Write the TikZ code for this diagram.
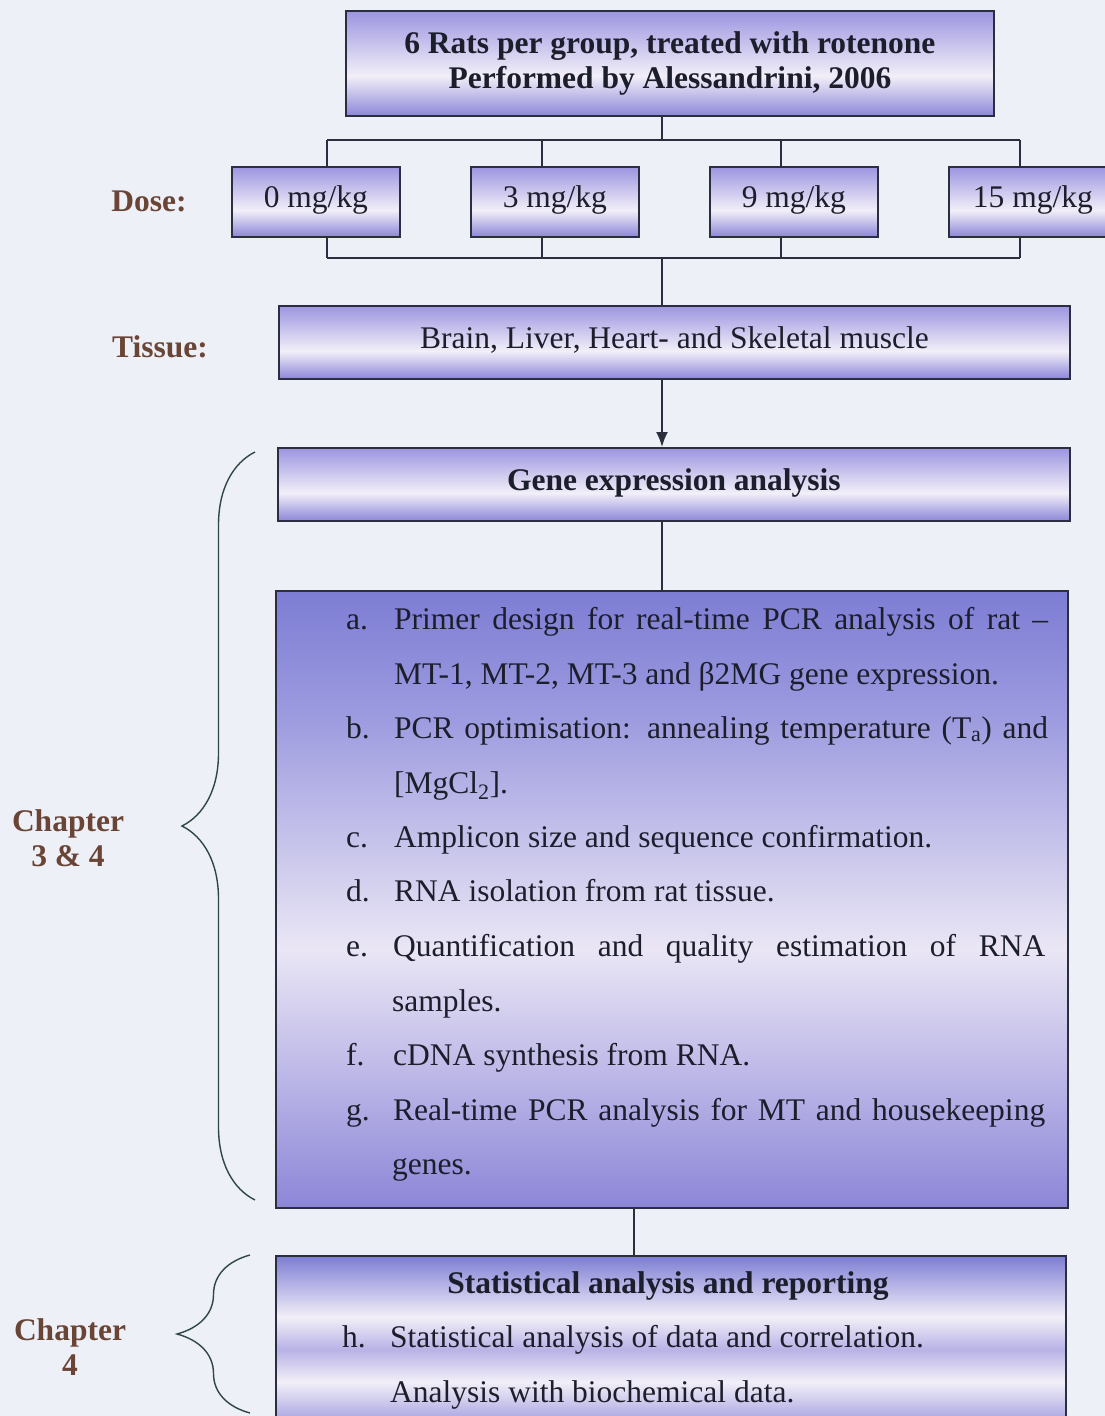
\documentclass[tikz,border=0pt]{standalone}
\usepackage{fontspec}
\setmainfont{Liberation Serif}
\usetikzlibrary{arrows.meta,decorations.pathreplacing}

\definecolor{bgcol}{HTML}{EEF0F8}
\definecolor{boxtop}{HTML}{9C95E0}
\definecolor{boxmid}{HTML}{F2EFF8}
\definecolor{boxbot}{HTML}{8C86D8}
\definecolor{bigtop}{HTML}{7D7DD4}
\definecolor{bigupper}{HTML}{9C9ADF}
\definecolor{bigmid}{HTML}{EAE6F5}
\definecolor{statmid}{HTML}{B8B2E6}
\definecolor{labcol}{HTML}{6A4535}
\definecolor{linecol}{HTML}{2A2E3E}
\definecolor{bracecol}{HTML}{2E4646}
\definecolor{txtcol}{HTML}{1C1E2C}

\pgfdeclareverticalshading{boxshade}{100bp}{color(0bp)=(boxbot); color(25bp)=(boxbot); color(44bp)=(boxmid); color(75bp)=(boxtop); color(100bp)=(boxtop)}
\pgfdeclareverticalshading{bigshade}{100bp}{color(0bp)=(boxbot); color(25bp)=(boxbot); color(46bp)=(bigmid); color(65bp)=(bigupper); color(75bp)=(bigtop); color(100bp)=(bigtop)}
\pgfdeclareverticalshading{statshade}{100bp}{color(0bp)=(boxbot); color(25bp)=(boxbot); color(40bp)=(boxmid); color(49bp)=(statmid); color(58bp)=(boxmid); color(75bp)=(bigtop); color(100bp)=(bigtop)}

\newcommand{\chartfont}{\fontsize{31.5pt}{35pt}\selectfont}

\begin{document}
\begin{tikzpicture}[x=1pt,y=-1pt,
    gbox/.style={draw=linecol, line width=1.8pt, shading=boxshade, anchor=north west,
      inner sep=0pt, text=txtcol, font=\chartfont, text height=20pt, text depth=8pt},
    lbl/.style={text=labcol, font=\chartfont\bfseries, anchor=base, inner sep=0pt},
    itm/.style={text=txtcol, font=\chartfont, anchor=base west, inner sep=0pt},
    conn/.style={draw=linecol, line width=1.8pt},
    brc/.style={draw=bracecol, line width=1.4pt, decorate, decoration={brace, amplitude=73pt}}]

  \useasboundingbox (0,0) rectangle (1105,1416);
  \fill[bgcol] (0,0) rectangle (1105,1416);

  % boxes
  \node[gbox, minimum width=648pt, minimum height=105pt, text height=, text depth=, align=center, font=\chartfont\bfseries] (rats) at (345,10)
    {6 Rats per group, treated with rotenone\\Performed by Alessandrini, 2006};
  \node[gbox, minimum width=168pt, minimum height=70pt] (d0) at (231,166) {0 mg/kg};
  \node[gbox, minimum width=168pt, minimum height=70pt] (d1) at (470,166) {3 mg/kg};
  \node[gbox, minimum width=168pt, minimum height=70pt] (d2) at (709,166) {9 mg/kg};
  \node[gbox, minimum width=168pt, minimum height=70pt] (d3) at (948,166) {15 mg/kg};
  \node[gbox, minimum width=791pt, minimum height=73pt] (tissue) at (278,305) {Brain, Liver, Heart- and Skeletal muscle};
  \node[gbox, minimum width=792pt, minimum height=73pt, font=\chartfont\bfseries] (gene) at (277,447) {Gene expression analysis};
  \node[gbox, minimum width=792pt, minimum height=617pt, shading=bigshade] (big) at (275,590) {};
  \node[gbox, minimum width=790pt, minimum height=180pt, shading=statshade] (stat) at (275,1255) {};

  % side labels
  \node[lbl] (dose) at (149,211) {Dose:};
  \node[lbl] (tis) at (160,357) {Tissue:};
  \node[lbl] (ch34a) at (68,831) {Chapter};
  \node[lbl] (ch34b) at (68,866) {3 \& 4};
  \node[lbl] (ch4a) at (70,1340) {Chapter};
  \node[lbl] (ch4b) at (70,1375) {4};

  % connectors
  \coordinate (hub1) at (662,140);
  \coordinate (hub2) at (662,258);
  \coordinate (hub3) at (634,1230);
  \coordinate (t0) at (327,140);
  \coordinate (t1) at (542,140);
  \coordinate (t2) at (781,140);
  \coordinate (t3) at (1020,140);
  \coordinate (b0) at (327,258);
  \coordinate (b1) at (542,258);
  \coordinate (b2) at (781,258);
  \coordinate (b3) at (1020,258);
  \draw[conn] (rats.south -| hub1) -- (hub1);
  \draw[conn] (t0) -- (t3);
  \draw[conn] (b0) -- (b3);
  \foreach \i in {0,...,3} {
    \draw[conn] (t\i) -- (t\i |- d\i.north);
    \draw[conn] (b\i |- d\i.south) -- (b\i);
  }
  \draw[conn] (hub2) -- (tissue.north -| hub2);
  \draw[conn, -{Latex[length=15pt,width=12pt]}] (tissue.south -| hub2) -- (gene.north -| hub2);
  \draw[conn] (gene.south -| hub2) -- (big.north -| hub2);
  \draw[conn] (big.south -| hub3) -- (stat.north -| hub3);

  % braces
  \draw[brc] (255,1200) -- (255,452);
  \draw[brc] (250,1413) -- (250,1255);

  % gene expression steps
  \node[itm] (la) at (346,629) {a.};
  \node[itm] (ta1) at (394,629) {\makebox[654pt][s]{Primer design for real-time PCR analysis of rat –}};
  \node[itm] (ta2) at (394,684) {MT-1, MT-2, MT-3 and β2MG gene expression.};
  \node[itm] (lb) at (346,738) {b.};
  \node[itm] (tb1) at (394,738) {\makebox[654pt][s]{PCR optimisation: annealing temperature (T\textsubscript{a}) and}};
  \node[itm] (tb2) at (394,793) {[MgCl\textsubscript{2}].};
  \node[itm] (lc) at (346,847) {c.};
  \node[itm] (tc) at (394,847) {Amplicon size and sequence confirmation.};
  \node[itm] (ld) at (346,901) {d.};
  \node[itm] (td) at (394,901) {RNA isolation from rat tissue.};
  \node[itm] (le) at (346,956) {e.};
  \node[itm] (te1) at (393,956) {\makebox[652pt][s]{Quantification and quality estimation of RNA}};
  \node[itm] (te2) at (392,1011) {samples.};
  \node[itm] (lf) at (346,1065) {f.};
  \node[itm] (tf) at (393,1065) {cDNA synthesis from RNA.};
  \node[itm] (lg) at (346,1120) {g.};
  \node[itm] (tg1) at (393,1120) {\makebox[652pt][s]{Real-time PCR analysis for MT and housekeeping}};
  \node[itm] (tg2) at (392,1174) {genes.};

  % statistics
  \node[itm, anchor=base, font=\chartfont\bfseries] (sh) at (668,1293) {Statistical analysis and reporting};
  \node[itm] (lh) at (342,1347) {h.};
  \node[itm] (th1) at (390,1347) {Statistical analysis of data and correlation.};
  \node[itm] (th2) at (390,1402) {Analysis with biochemical data.};
\end{tikzpicture}
\end{document}
